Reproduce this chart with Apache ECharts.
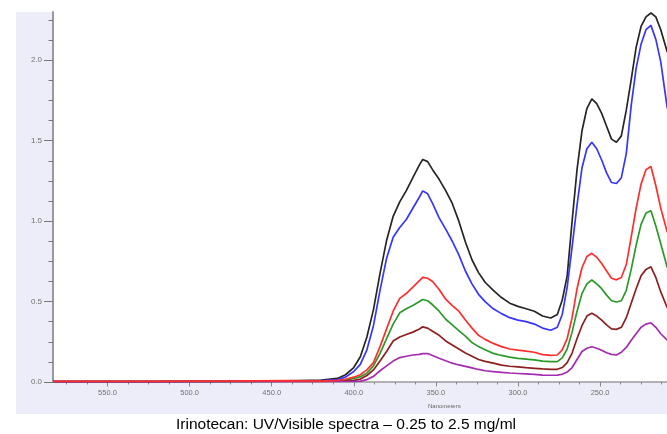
<!DOCTYPE html>
<html><head><meta charset="utf-8">
<script src="https://cdn.jsdelivr.net/npm/echarts@6/dist/echarts.min.js"></script>
<style>
html,body{margin:0;padding:0;background:#fff;}
#panel{position:absolute;left:16px;top:12px;width:651px;height:402px;background:#ededfa;}
#c{position:absolute;left:0;top:0;width:667px;height:434px;}
</style>
</head><body><div id="panel"></div><div id="c"></div>
<script>
const wavelengths = [583,560,540,520,500,480,460,440,420,410,405,400,396,392,388,384,380,376,372,368,364,360,358,355,352,348,344,340,336,332,328,324,320,315,310,305,300,295,290,285,280,276,273,270,267,264,261,258,255,252,249,246,243,240,237,234,231,228,225,222,219,216,213,209];
const blackSeries = [0.003,0.003,0.003,0.003,0.004,0.004,0.005,0.007,0.012,0.022,0.045,0.09,0.157,0.28,0.45,0.675,0.88,1.03,1.12,1.19,1.27,1.35,1.383,1.37,1.32,1.26,1.19,1.11,1.00,0.87,0.76,0.68,0.62,0.57,0.525,0.49,0.47,0.455,0.44,0.41,0.398,0.42,0.51,0.66,1.0,1.32,1.56,1.70,1.76,1.73,1.67,1.59,1.51,1.49,1.53,1.69,1.88,2.08,2.21,2.27,2.294,2.27,2.19,2.05];
const blueSeries = [0.002,0.002,0.002,0.002,0.003,0.003,0.004,0.005,0.008,0.015,0.03,0.065,0.11,0.2,0.35,0.57,0.77,0.90,0.96,1.01,1.08,1.15,1.188,1.17,1.11,1.02,0.95,0.875,0.79,0.69,0.61,0.545,0.50,0.455,0.425,0.40,0.385,0.375,0.36,0.335,0.322,0.34,0.42,0.59,0.84,1.10,1.33,1.45,1.49,1.45,1.38,1.30,1.24,1.234,1.27,1.42,1.72,1.95,2.10,2.19,2.217,2.13,1.99,1.70];
const greenSeries = [0.003,0.003,0.003,0.003,0.003,0.004,0.004,0.005,0.005,0.008,0.012,0.022,0.033,0.055,0.10,0.178,0.27,0.36,0.43,0.455,0.475,0.50,0.513,0.505,0.48,0.44,0.39,0.355,0.32,0.285,0.245,0.22,0.20,0.178,0.165,0.155,0.147,0.142,0.137,0.13,0.127,0.127,0.15,0.205,0.31,0.44,0.55,0.61,0.634,0.61,0.58,0.54,0.505,0.497,0.505,0.57,0.70,0.85,0.98,1.05,1.065,0.97,0.86,0.71];
const brownSeries = [0.002,0.002,0.002,0.002,0.003,0.003,0.003,0.004,0.004,0.005,0.007,0.01,0.018,0.04,0.075,0.13,0.19,0.255,0.28,0.295,0.31,0.33,0.343,0.335,0.315,0.29,0.255,0.23,0.205,0.18,0.16,0.14,0.128,0.117,0.105,0.098,0.094,0.089,0.085,0.081,0.079,0.079,0.09,0.12,0.18,0.27,0.35,0.41,0.427,0.41,0.385,0.355,0.33,0.327,0.34,0.40,0.49,0.58,0.66,0.70,0.716,0.65,0.56,0.46];
const purpleSeries = [0.002,0.002,0.002,0.002,0.002,0.003,0.004,0.004,0.003,0.003,0.003,0.004,0.005,0.015,0.035,0.07,0.10,0.13,0.152,0.16,0.168,0.172,0.176,0.177,0.165,0.148,0.132,0.117,0.106,0.097,0.088,0.078,0.07,0.064,0.06,0.056,0.053,0.05,0.047,0.043,0.042,0.043,0.048,0.062,0.09,0.14,0.19,0.21,0.219,0.21,0.197,0.182,0.172,0.168,0.185,0.215,0.26,0.30,0.34,0.36,0.368,0.34,0.30,0.26];
const redSeries = [0.004,0.004,0.004,0.004,0.005,0.006,0.007,0.008,0.006,0.01,0.017,0.03,0.045,0.075,0.12,0.22,0.33,0.44,0.52,0.55,0.59,0.63,0.65,0.645,0.625,0.575,0.515,0.475,0.44,0.385,0.335,0.29,0.265,0.24,0.22,0.205,0.198,0.192,0.185,0.17,0.165,0.168,0.2,0.27,0.40,0.58,0.71,0.78,0.80,0.775,0.737,0.69,0.645,0.635,0.65,0.73,0.90,1.08,1.23,1.32,1.34,1.22,1.08,0.93];
const xTickLabels = [550,500,450,400,350,300,250];
const yTickLabels = [0,0.5,1.0,1.5,2.0];
const xMin = 209.2, xMax = 583.2, yMin = 0, yMax = 2.3;

const xMinor = []; for (let v = 575; v > 212; v -= 12.5) xMinor.push(v);
const yMinor = []; for (let v = 0; v < 2.3; v += 0.125) yMinor.push(+v.toFixed(3));

const pair = arr => wavelengths.map((w, i) => [w, arr[i]]);
const lineSeries = [
  ['black', blackSeries, '#262626'],
  ['blue', blueSeries, '#3636ff'],
  ['green', greenSeries, '#2a9a2a'],
  ['brown', brownSeries, '#8e1f1f'],
  ['purple', purpleSeries, '#a42aae'],
  ['red', redSeries, '#ff2e2e']
].map(([n, arr, col]) => ({
  name: n, type: 'line', data: pair(arr), showSymbol: false, symbol: 'none',
  lineStyle: { color: col, width: 1.7 }, itemStyle: { color: col }, animation: false
}));

const axisGray = '#9a9a9a';
const chart = echarts.init(document.getElementById('c'), null, { renderer: 'canvas' });
chart.setOption({
  animation: false,
  textStyle: { fontFamily: 'Liberation Sans, Arial, sans-serif' },
  grid: { left: 53, right: 0, top: 12, bottom: 52, show: true, backgroundColor: '#ffffff', borderWidth: 0 },
  title: {
    text: 'Irinotecan: UV/Visible spectra – 0.25 to 2.5 mg/ml',
    left: 341, textAlign: 'center', top: 412,
    textStyle: { fontSize: 15.5, fontWeight: 'normal', color: '#000', fontFamily: 'Liberation Sans, Arial, sans-serif' }
  },
  graphic: [{
    type: 'text', left: 450 - 22, top: 403,
    style: { text: 'Nanometers', fontSize: 6, fill: '#666', fontFamily: 'Liberation Sans, Arial, sans-serif' }
  }],
  xAxis: [{
    type: 'value', inverse: true, min: xMin, max: xMax, position: 'bottom',
    axisLine: { show: true, lineStyle: { color: axisGray, width: 1.5 } },
    axisTick: { show: true, customValues: xMinor, length: 2.5, lineStyle: { color: '#888' } },
    axisLabel: { show: true, customValues: xTickLabels, formatter: v => v.toFixed(1), fontSize: 7.5, color: '#707070', margin: 7 },
    splitLine: { show: false }
  }, {
    type: 'value', inverse: true, min: xMin, max: xMax, position: 'bottom', offset: 0,
    axisLine: { show: false },
    axisTick: { show: true, customValues: xTickLabels, length: 4.5, lineStyle: { color: '#888' } },
    axisLabel: { show: false }, splitLine: { show: false }
  }],
  yAxis: [{
    type: 'value', min: yMin, max: yMax, position: 'left',
    axisLine: { show: true, lineStyle: { color: axisGray, width: 2 } },
    axisTick: { show: true, customValues: yMinor, length: 4.5, lineStyle: { color: '#777' } },
    axisLabel: { show: true, customValues: yTickLabels, formatter: v => v.toFixed(1), fontSize: 8, color: '#707070', margin: 11 },
    splitLine: { show: false }
  }, {
    type: 'value', min: yMin, max: yMax, position: 'left', offset: 0,
    axisLine: { show: false },
    axisTick: { show: true, customValues: yTickLabels, length: 9, lineStyle: { color: '#777' } },
    axisLabel: { show: false }, splitLine: { show: false }
  }],
  series: lineSeries
});
</script>
</body></html>
